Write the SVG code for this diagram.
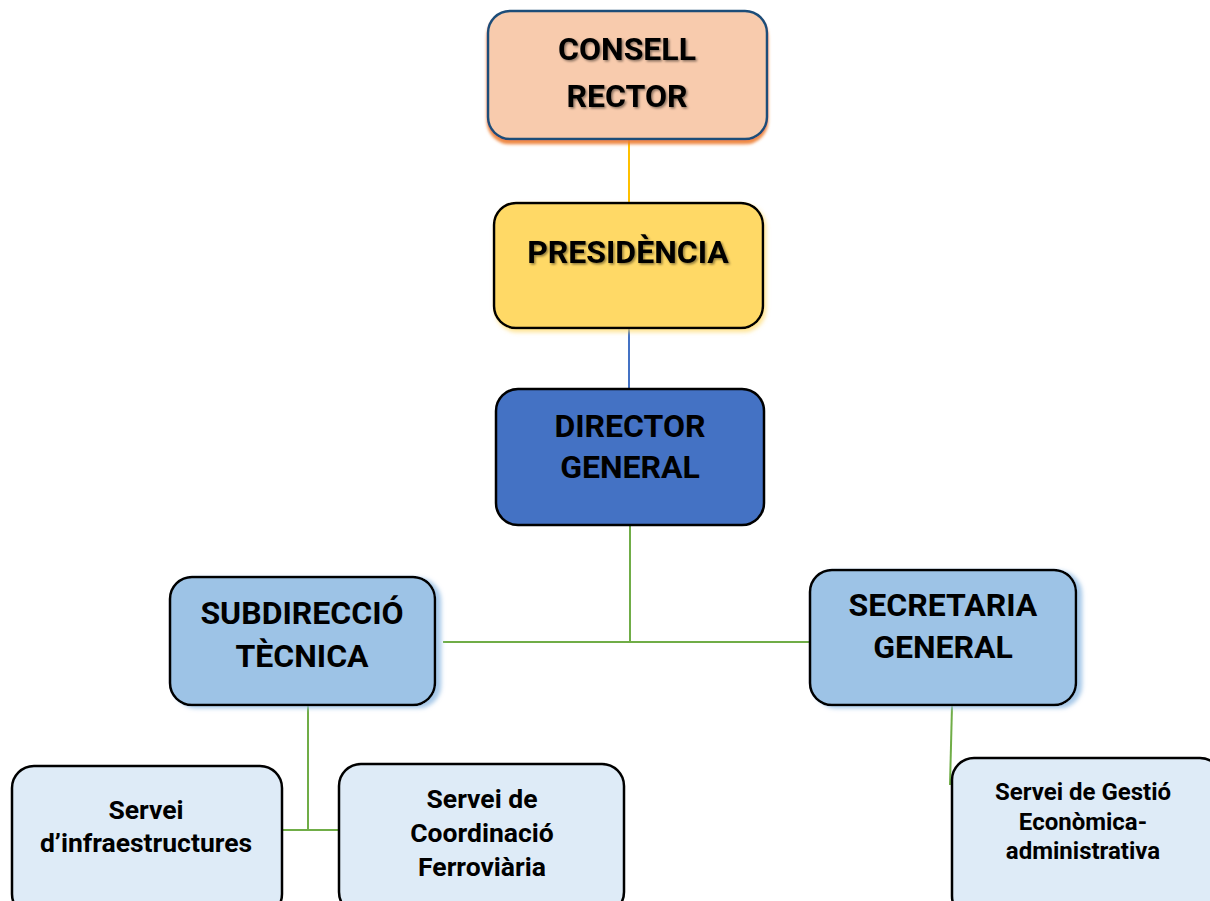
<svg xmlns="http://www.w3.org/2000/svg" width="1210" height="901" viewBox="0 0 1210 901">
<defs>
<filter id="ts" x="-10%" y="-30%" width="120%" height="160%"><feDropShadow dx="1.5" dy="1.5" stdDeviation="1.2" flood-color="#000" flood-opacity="0.45"/></filter>
<filter id="bsO" x="-10%" y="-10%" width="120%" height="130%"><feDropShadow dx="0" dy="4" stdDeviation="1.5" flood-color="#ed7d31" flood-opacity="0.9"/></filter>
<filter id="bsY" x="-10%" y="-10%" width="120%" height="130%"><feDropShadow dx="2" dy="3" stdDeviation="2" flood-color="#ffd966" flood-opacity="0.7"/></filter>
<filter id="bsB" x="-10%" y="-10%" width="120%" height="130%"><feDropShadow dx="5" dy="2" stdDeviation="2" flood-color="#9dc3e6" flood-opacity="0.9"/></filter>
</defs>
<style>
.big{font-family:Roboto,"Liberation Sans",sans-serif;font-weight:bold;font-size:32px;fill:#000;text-anchor:middle}
.mid{font-family:Roboto,"Liberation Sans",sans-serif;font-weight:bold;font-size:26.5px;fill:#000;text-anchor:middle}
.sm{font-family:Roboto,"Liberation Sans",sans-serif;font-weight:bold;font-size:24px;fill:#000;text-anchor:middle}
.box{stroke:#000;stroke-width:2.5}
.lg{fill:#deebf7}
.lb{fill:#9dc3e6}
.cn{fill:none;stroke-width:2}
</style>
<rect width="1210" height="901" fill="#fff"/>
<g id="connectors">
<line class="cn" x1="629" y1="139" x2="629" y2="203" stroke="#ffc000"/>
<line class="cn" x1="629" y1="328" x2="629" y2="389" stroke="#4472c4"/>
<line class="cn" x1="630" y1="525" x2="630" y2="642" stroke="#70ad47"/>
<line class="cn" x1="443" y1="642" x2="810" y2="642" stroke="#70ad47"/>
<line class="cn" x1="308" y1="705" x2="308" y2="830" stroke="#70ad47"/>
<line class="cn" x1="283" y1="830" x2="339" y2="830" stroke="#70ad47"/>
<line class="cn" x1="952" y1="706" x2="950" y2="785" stroke="#70ad47"/>
</g>
<g id="consell">
<rect x="488" y="11" width="279" height="128" rx="22" fill="#f8cbad" stroke="#1f4e79" stroke-width="2.5" filter="url(#bsO)"/>
<text class="big" x="627" y="60" filter="url(#ts)">CONSELL</text>
<text class="big" x="627" y="107" filter="url(#ts)">RECTOR</text>
</g>
<g id="presidencia">
<rect x="494" y="203" width="269" height="125" rx="22" fill="#ffd966" class="box" filter="url(#bsY)"/>
<text class="big" x="628" y="263" filter="url(#ts)">PRESIDÈNCIA</text>
</g>
<g id="director">
<rect x="496" y="389" width="268" height="136" rx="22" fill="#4472c4" class="box"/>
<text class="big" x="630" y="437">DIRECTOR</text>
<text class="big" x="630" y="478">GENERAL</text>
</g>
<g id="subdireccio">
<rect x="170" y="577" width="265" height="128" rx="22" class="box lb" filter="url(#bsB)"/>
<text class="big" x="302" y="624">SUBDIRECCIÓ</text>
<text class="big" x="302" y="667">TÈCNICA</text>
</g>
<g id="secretaria">
<rect x="810" y="570" width="266" height="135" rx="22" class="box lb" filter="url(#bsB)"/>
<text class="big" x="943" y="616">SECRETARIA</text>
<text class="big" x="943" y="658">GENERAL</text>
</g>
<g id="infraestructures">
<rect x="12" y="766" width="270" height="150" rx="22" class="box lg"/>
<text class="mid" x="146" y="819">Servei</text>
<text class="mid" x="146" y="852">d’infraestructures</text>
</g>
<g id="coordinacio">
<rect x="339" y="764" width="285" height="150" rx="22" class="box lg"/>
<text class="mid" x="482" y="808">Servei de</text>
<text class="mid" x="482" y="842">Coordinació</text>
<text class="mid" x="482" y="876">Ferroviària</text>
</g>
<g id="gestio">
<rect x="952" y="758" width="270" height="160" rx="22" class="box lg"/>
<text class="sm" x="1083" y="800">Servei de Gestió</text>
<text class="sm" x="1083" y="830">Econòmica-</text>
<text class="sm" x="1083" y="859">administrativa</text>
</g>
</svg>
